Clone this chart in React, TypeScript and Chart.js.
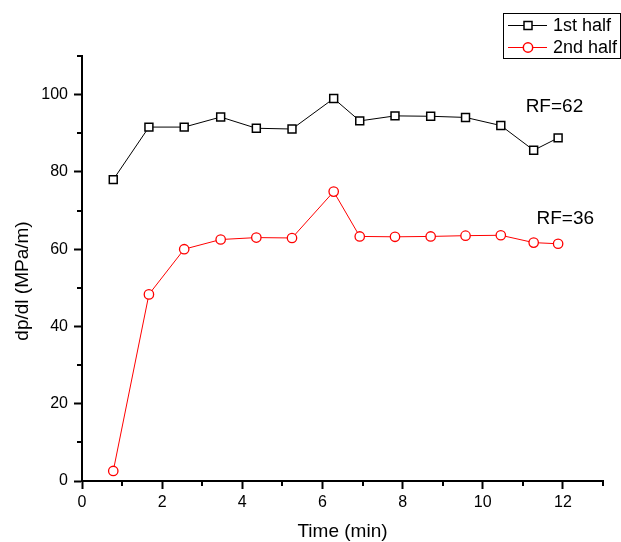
import React, { useEffect, useRef } from 'react';
import { Chart, registerables } from 'chart.js';

Chart.register(...registerables);

// ---- data ----
const timeMin = [0.78, 1.67, 2.55, 3.46, 4.35, 5.24, 6.28, 6.93, 7.81, 8.7, 9.57, 10.45, 11.27, 11.88];
const firstHalf = [78.0, 91.6, 91.6, 94.2, 91.3, 91.1, 99.0, 93.2, 94.5, 94.4, 94.1, 92.0, 85.6, 88.8];
const secondHalf = [2.6, 48.3, 60.0, 62.5, 63.0, 62.9, 74.9, 63.3, 63.2, 63.3, 63.5, 63.6, 61.7, 61.4];
const seriesLabels = ['1st half', '2nd half'];
const xTickValues = [0, 2, 4, 6, 8, 10, 12];
const yTickValues = [0, 20, 40, 60, 80, 100];
const xMinorTicks = [1, 3, 5, 7, 9, 11, 13];
const yMinorTicks = [10, 30, 50, 70, 90, 110];
const annotationTexts = ['RF=62', 'RF=36'];
const annotationX = [11.07, 11.34];
const annotationY = [96.9, 68.0];
const xTitle = 'Time (min)';
const yTitle = 'dp/dl (MPa/m)';

const FONT = "'Liberation Sans', Arial, Helvetica, sans-serif";

export default function App() {
  const ref = useRef<HTMLCanvasElement>(null);

  useEffect(() => {
    const canvas = ref.current;
    if (!canvas) return;

    const overlay = {
      id: 'overlay',
      afterDraw(chart: any) {
        const ctx = chart.ctx as CanvasRenderingContext2D;
        const xs = chart.scales.x;
        const ys = chart.scales.y;
        const ca = chart.chartArea;
        ctx.save();
        // minor ticks
        ctx.strokeStyle = '#000';
        ctx.lineWidth = 2;
        ctx.beginPath();
        yMinorTicks.forEach((v) => {
          const p = Math.round(ys.getPixelForValue(v));
          ctx.moveTo(ca.left - 5, p);
          ctx.lineTo(ca.left, p);
        });
        xMinorTicks.forEach((v) => {
          const p = Math.round(xs.getPixelForValue(v));
          ctx.moveTo(p, ca.bottom);
          ctx.lineTo(p, ca.bottom + 5);
        });
        ctx.stroke();

        // axis titles
        ctx.fillStyle = '#000';
        ctx.font = `19px ${FONT}`;
        ctx.textAlign = 'center';
        ctx.textBaseline = 'middle';
        ctx.fillText(xTitle, (ca.left + ca.right) / 2, 532);
        ctx.save();
        ctx.translate(23, 281);
        ctx.rotate(-Math.PI / 2);
        ctx.fillText(yTitle, 0, 0);
        ctx.restore();

        // annotations
        ctx.textAlign = 'left';
        annotationTexts.forEach((t, i) => {
          ctx.fillText(t, xs.getPixelForValue(annotationX[i]), ys.getPixelForValue(annotationY[i]));
        });

        // legend
        const bx = 503.5, by = 13.5, bw = 117, bh = 45;
        ctx.lineWidth = 1;
        ctx.strokeStyle = '#000';
        ctx.strokeRect(bx, by, bw, bh);
        const rows = [25, 47];
        const colors = ['#000', '#ff0000'];
        ctx.font = `18px ${FONT}`;
        rows.forEach((ry, i) => {
          ctx.strokeStyle = colors[i];
          ctx.lineWidth = 1;
          ctx.beginPath();
          ctx.moveTo(508, ry + 0.5);
          ctx.lineTo(547, ry + 0.5);
          ctx.stroke();
          ctx.fillStyle = '#fff';
          ctx.lineWidth = 1.5;
          ctx.beginPath();
          if (i === 0) {
            ctx.rect(528 - 4, ry + 0.5 - 4, 8, 8);
          } else {
            ctx.arc(528, ry + 0.5, 4.7, 0, Math.PI * 2);
          }
          ctx.fill();
          ctx.stroke();
          ctx.fillStyle = '#000';
          ctx.textAlign = 'left';
          ctx.textBaseline = 'middle';
          ctx.fillText(seriesLabels[i], 553, ry + 1);
        });
        ctx.restore();
      },
    };

    const chart = new Chart(canvas, {
      type: 'scatter',
      data: {
        datasets: [
          {
            label: seriesLabels[0],
            data: timeMin.map((x, i) => ({ x, y: firstHalf[i] })),
            showLine: true,
            borderColor: '#000',
            borderWidth: 1,
            pointStyle: 'rect',
            pointRadius: 5.6,
            pointBorderColor: '#000',
            pointBackgroundColor: '#fff',
            pointBorderWidth: 1.5,
            tension: 0,
          },
          {
            label: seriesLabels[1],
            data: timeMin.map((x, i) => ({ x, y: secondHalf[i] })),
            showLine: true,
            borderColor: '#ff0000',
            borderWidth: 1,
            pointStyle: 'circle',
            pointRadius: 4.7,
            pointBorderColor: '#ff0000',
            pointBackgroundColor: '#fff',
            pointBorderWidth: 1.3,
            tension: 0,
          },
        ],
      },
      options: {
        responsive: false,
        animation: false,
        devicePixelRatio: 1,
        layout: { padding: { left: 0, top: 56, right: 18, bottom: 0 } },
        plugins: { legend: { display: false }, tooltip: { enabled: false } },
        scales: {
          x: {
            type: 'linear',
            min: 0,
            max: 13,
            afterBuildTicks: (s: any) => {
              s.ticks = xTickValues.map((v) => ({ value: v }));
            },
            afterFit: (s: any) => {
              s.height = 61;
            },
            ticks: { font: { family: FONT, size: 16 }, color: '#000', padding: 4, maxRotation: 0, autoSkip: false },
            grid: { drawOnChartArea: false, drawTicks: true, tickLength: 8, tickWidth: 2, tickColor: '#000' },
            border: { display: true, color: '#000', width: 2 },
          },
          y: {
            type: 'linear',
            min: 0,
            max: 110,
            afterBuildTicks: (s: any) => {
              s.ticks = yTickValues.map((v) => ({ value: v }));
            },
            afterFit: (s: any) => {
              s.width = 82;
            },
            ticks: { font: { family: FONT, size: 16 }, color: '#000', padding: 6, autoSkip: false },
            grid: { drawOnChartArea: false, drawTicks: true, tickLength: 8, tickWidth: 2, tickColor: '#000' },
            border: { display: true, color: '#000', width: 2 },
          },
        },
      },
      plugins: [overlay],
    } as any);

    return () => chart.destroy();
  }, []);

  return (
    <div style={{ position: 'absolute', left: 0, top: 0, width: 621, height: 542, background: '#fff' }}>
      <canvas ref={ref} width={621} height={542} style={{ display: 'block', width: 621, height: 542 }} />
    </div>
  );
}
